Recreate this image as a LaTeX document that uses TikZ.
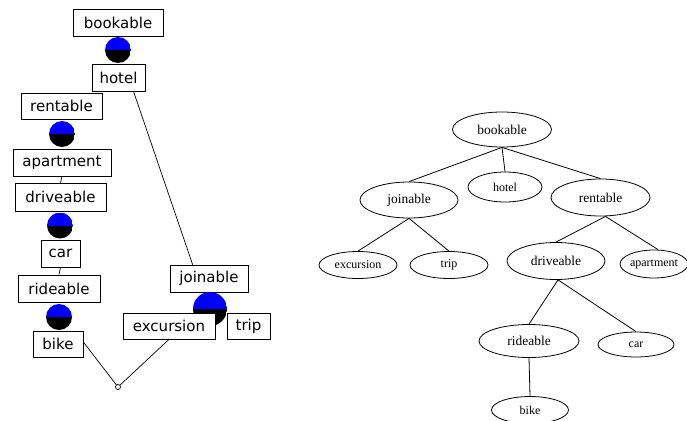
\documentclass[tikz,border=0pt]{standalone}
\usepackage{fontspec}
\newfontfamily\javafont{DejaVu Sans}
\newfontfamily\gvfont{Liberation Serif}
\usetikzlibrary{positioning, calc, shapes.geometric}

\begin{document}
\begin{tikzpicture}[x=1pt,y=-1pt,
        tbox/.style={draw,fill=white,inner sep=0pt,minimum height=27pt,font=\javafont\fontsize{15}{15}\selectfont},
        ball/.style={circle,inner sep=0pt,minimum size=#1,
            path picture={
                \fill[blue] (path picture bounding box.north west) rectangle (path picture bounding box.east);
                \fill[black] (path picture bounding box.west) rectangle (path picture bounding box.south east);}},
        junction/.style={circle,draw,fill=white,inner sep=0pt,minimum size=5pt},
        gv/.style={ellipse,draw,inner sep=0pt,line width=0.8pt},
        big/.style={font=\gvfont\fontsize{13.5}{13.5}\selectfont},
        small/.style={font=\gvfont\fontsize{12}{12}\selectfont}]
            \useasboundingbox[fill=white] (0,0) rectangle (687,420);
            \begin{scope}[line width=0.7pt]
                \node[tbox,minimum width=90pt] (lbookable) at (118,22.5) {bookable};
                \node[tbox,minimum width=53pt] (lhotel) at (118.5,77.5) {hotel};
                \node[ball=26pt] (b1) at (118,50) {};
                \node[tbox,minimum width=81pt,minimum height=26pt] (lrentable) at (61.5,106) {rentable};
                \node[tbox,minimum width=98pt] (lapartment) at (62,162.5) {apartment};
                \node[ball=26pt] (b2) at (62,134) {};
                \node[tbox,minimum width=91pt,minimum height=28pt] (ldriveable) at (60.5,197) {driveable};
                \node[tbox,minimum width=39pt] (lcar) at (60.5,253.5) {car};
                \node[ball=26pt] (b3) at (60,225.5) {};
                \node[tbox,minimum width=82pt] (lrideable) at (59,288.5) {rideable};
                \node[tbox,minimum width=50pt,minimum height=26pt] (lbike) at (58,344) {bike};
                \node[ball=26pt] (b4) at (59,317) {};
                \node[tbox,minimum width=78pt] (ljoinable) at (209,278.5) {joinable};
                \node[ball=34pt] (b5) at (210,309) {};
                \node[tbox,minimum width=92pt,minimum height=26pt] (lexcursion) at (169,326) {excursion};
                \node[tbox,minimum width=43pt,minimum height=26pt] (ltrip) at (248.5,326) {trip};
                \node[junction] (jn) at (118,387) {};
                \draw (lapartment.south) -- (ldriveable.north);
                \draw (lcar.south) -- (lrideable.north);
                \draw ([xshift=15pt]lhotel.south) -- ([xshift=23pt]ljoinable.north west);
                \draw ([yshift=2pt]lbike.east) -- (jn);
                \draw (lexcursion.south) -- (jn);
            \end{scope}
            \node[gv,big,minimum width=99pt,minimum height=35pt] (bookable) at (502,129.5) {bookable};
            \node[gv,small,minimum width=74pt,minimum height=30pt] (hotel) at (505,187) {hotel};
            \node[gv,big,minimum width=98pt,minimum height=36pt] (joinable) at (409,200) {joinable};
            \node[gv,big,minimum width=99pt,minimum height=37pt] (rentable) at (600.5,197.5) {rentable};
            \node[gv,small,minimum width=78pt,minimum height=27pt] (excursion) at (358,265) {excursion};
            \node[gv,small,minimum width=78pt,minimum height=27pt] (trip) at (449,265) {trip};
            \node[gv,big,minimum width=98pt,minimum height=37pt] (driveable) at (556,261) {driveable};
            \node[gv,small,minimum width=66pt,minimum height=28pt] (apartment) at (654,264) {apartment};
            \node[gv,big,minimum width=100pt,minimum height=33pt] (rideable) at (529,341) {rideable};
            \node[gv,small,minimum width=76pt,minimum height=25pt] (car) at (636,344.5) {car};
            \node[gv,small,minimum width=77pt,minimum height=27pt] (bike) at (530,410) {bike};
            \draw[line width=0.8pt] (bookable.south) -- (joinable.north);
            \draw[line width=0.8pt] (bookable.south) -- (hotel.north);
            \draw[line width=0.8pt] (bookable.south) -- (rentable.north);
            \draw[line width=0.8pt] (joinable.south) -- (excursion.north);
            \draw[line width=0.8pt] (joinable.south) -- (trip.north);
            \draw[line width=0.8pt] ([xshift=5pt]rentable.south) -- (driveable.north);
            \draw[line width=0.8pt] ([xshift=5pt]rentable.south) -- ([xshift=4pt]apartment.north);
            \draw[line width=0.8pt] ([xshift=2pt]driveable.south) -- (rideable.north);
            \draw[line width=0.8pt] ([xshift=2pt]driveable.south) -- (car.north);
            \draw[line width=0.8pt] (rideable.south) -- (bike.north);
        \end{tikzpicture}
\end{document}
